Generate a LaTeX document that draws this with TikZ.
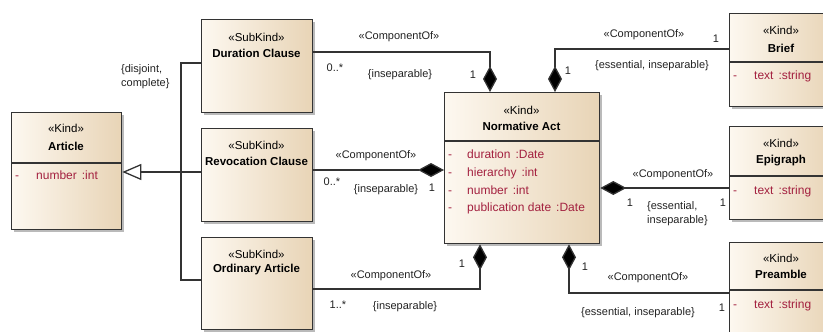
\documentclass[tikz,border=0pt]{standalone}
\usepackage{fontspec}
\setmainfont{Liberation Sans}
\usetikzlibrary{arrows.meta,shadows}
\definecolor{boxlight}{HTML}{FDF8F0}
\definecolor{boxdark}{HTML}{E8D4B6}
\definecolor{attrred}{HTML}{A3203F}
\definecolor{linegray}{HTML}{333333}
\definecolor{labelgray}{HTML}{222222}

\begin{document}
\begin{tikzpicture}[x=1pt, y=-1pt,
	classbox/.style={draw=linegray, line width=1.3pt, left color=boxlight, right color=boxdark,
		anchor=north west, inner sep=0pt,
		drop shadow={shadow xshift=2.5pt, shadow yshift=-2.5pt, fill=black!45, opacity=0.6}},
	stereo/.style={font=\fontsize{11.5}{13}\selectfont, text=black, inner sep=0pt},
	cname/.style={font=\fontsize{11.5}{13}\selectfont\bfseries, text=black, inner sep=0pt},
	attr/.style={font=\fontsize{12}{14}\selectfont, text=attrred, anchor=west, inner sep=0pt,
		text height=9pt, text depth=3pt},
	lbl/.style={font=\fontsize{11}{14}\selectfont, text=labelgray, inner sep=0pt},
	conn/.style={draw=linegray, line width=1.3pt},
	compo/.style={conn, -{Diamond[length=26pt, width=14pt, fill=black]}},
	gen/.style={conn, -{Triangle[length=19pt, width=16pt, fill=white]}}]
			\useasboundingbox (0,0) rectangle (823,332);
			\clip (0,0) rectangle (823,332);
			% classes
			\node[classbox, minimum width=110pt, minimum height=117pt] (art) at (11,112) {};
			\node[stereo] (art-st) at (66,128) {«Kind»};
			\node[cname] (art-nm) at (66,146) {Article};
			\draw[conn] (art.west |- 0,163) -- (art.east |- 0,163);
			\node[attr] (art-d1) at (15,176) {-};
			\node[attr] (art-a1) at (36,176) {number\hspace{5pt}:int};

			\node[classbox, minimum width=111pt, minimum height=93pt] (dur) at (201,19) {};
			\node[stereo] (dur-st) at (256.5,37) {«SubKind»};
			\node[cname] (dur-nm) at (256.5,53) {Duration Clause};

			\node[classbox, minimum width=111pt, minimum height=93pt] (rev) at (201,128) {};
			\node[stereo] (rev-st) at (256.5,145) {«SubKind»};
			\node[cname] (rev-nm) at (256.5,161) {Revocation Clause};

			\node[classbox, minimum width=111pt, minimum height=92pt] (ord) at (201,237) {};
			\node[stereo] (ord-st) at (256.5,254) {«SubKind»};
			\node[cname] (ord-nm) at (256.5,270) {Ordinary Article};

			\node[classbox, minimum width=155pt, minimum height=151pt] (na) at (444,92) {};
			\node[stereo] (na-st) at (521.5,110) {«Kind»};
			\node[cname] (na-nm) at (521.5,126) {Normative Act};
			\draw[conn] (na.west |- 0,141) -- (na.east |- 0,141);
			\node[attr] (na-d1) at (448,155) {-};
			\node[attr] (na-a1) at (467,155) {duration\hspace{5pt}:Date};
			\node[attr] (na-d2) at (448,173) {-};
			\node[attr] (na-a2) at (467,173) {hierarchy\hspace{5pt}:int};
			\node[attr] (na-d3) at (448,191) {-};
			\node[attr] (na-a3) at (467,191) {number\hspace{5pt}:int};
			\node[attr] (na-d4) at (448,208) {-};
			\node[attr] (na-a4) at (467,208) {publication date\hspace{5pt}:Date};

			\node[classbox, minimum width=104pt, minimum height=93pt] (brief) at (729,13) {};
			\node[stereo] (brief-st) at (781,30) {«Kind»};
			\node[cname] (brief-nm) at (781,48) {Brief};
			\draw[conn] (brief.west |- 0,62) -- (brief.east |- 0,62);
			\node[attr] (brief-d1) at (733,76) {-};
			\node[attr] (brief-a1) at (754,76) {text\hspace{5pt}:string};

			\node[classbox, minimum width=104pt, minimum height=93pt] (epi) at (729,126) {};
			\node[stereo] (epi-st) at (781,143) {«Kind»};
			\node[cname] (epi-nm) at (781,161) {Epigraph};
			\draw[conn] (epi.west |- 0,176) -- (epi.east |- 0,176);
			\node[attr] (epi-d1) at (733,191) {-};
			\node[attr] (epi-a1) at (754,191) {text\hspace{5pt}:string};

			\node[classbox, minimum width=104pt, minimum height=93pt] (pre) at (729,242) {};
			\node[stereo] (pre-st) at (781,258) {«Kind»};
			\node[cname] (pre-nm) at (781,274) {Preamble};
			\draw[conn] (pre.west |- 0,290) -- (pre.east |- 0,290);
			\node[attr] (pre-d1) at (733,305) {-};
			\node[attr] (pre-a1) at (754,305) {text\hspace{5pt}:string};

			% generalization
			\coordinate (trunk) at (181,172);
			\draw[gen] (trunk) -- (art.east |- trunk);
			\draw[conn] (dur.west |- 0,63) -| (trunk) |- (ord.west |- 0,280);
			\draw[conn] (rev.west |- trunk) -- (trunk);
			\node[lbl, align=left, anchor=west] (gen-lbl) at (121,77) {\{disjoint,\\complete\}};

			% composition
			\draw[compo] (dur.east |- 0,52) -| (na.north -| 490,0);
			\node[lbl] (dur-c) at (399,37) {«ComponentOf»};
			\node[lbl] (dur-m) at (335,68) {0..*};
			\node[lbl] (dur-p) at (400,75) {\{inseparable\}};
			\node[lbl] (dur-o) at (473,75) {1};

			\draw[compo] (brief.west |- 0,49) -| (na.north -| 555,0);
			\node[lbl] (brief-c) at (644,35) {«ComponentOf»};
			\node[lbl] (brief-m) at (716,39) {1};
			\node[lbl] (brief-p) at (652,66) {\{essential, inseparable\}};
			\node[lbl] (brief-o) at (568,71) {1};

			\draw[compo] (rev.east |- 0,170) -- (na.west |- 0,170);
			\node[lbl] (rev-c) at (376,156) {«ComponentOf»};
			\node[lbl] (rev-m) at (332,182) {0..*};
			\node[lbl] (rev-p) at (386,190) {\{inseparable\}};
			\node[lbl] (rev-o) at (432,188) {1};

			\draw[compo] (epi.west |- 0,188) -- (na.east |- 0,188);
			\node[lbl] (epi-c) at (673,175) {«ComponentOf»};
			\node[lbl] (epi-o) at (630,203) {1};
			\node[lbl, align=left, anchor=west] (epi-p) at (647,214) {\{essential,\\inseparable\}};
			\node[lbl] (epi-m) at (723,203) {1};

			\draw[compo] (ord.east |- 0,289) -| (na.south -| 480,0);
			\node[lbl] (ord-c) at (391,276) {«ComponentOf»};
			\node[lbl] (ord-m) at (338,305) {1..*};
			\node[lbl] (ord-p) at (405,307) {\{inseparable\}};
			\node[lbl] (ord-o) at (462,264) {1};

			\draw[compo] (pre.west |- 0,293) -| (na.south -| 569,0);
			\node[lbl] (pre-c) at (648,278) {«ComponentOf»};
			\node[lbl] (pre-o) at (585,267) {1};
			\node[lbl] (pre-p) at (638,313) {\{essential, inseparable\}};
			\node[lbl] (pre-m) at (722,308) {1};
		\end{tikzpicture}
\end{document}
